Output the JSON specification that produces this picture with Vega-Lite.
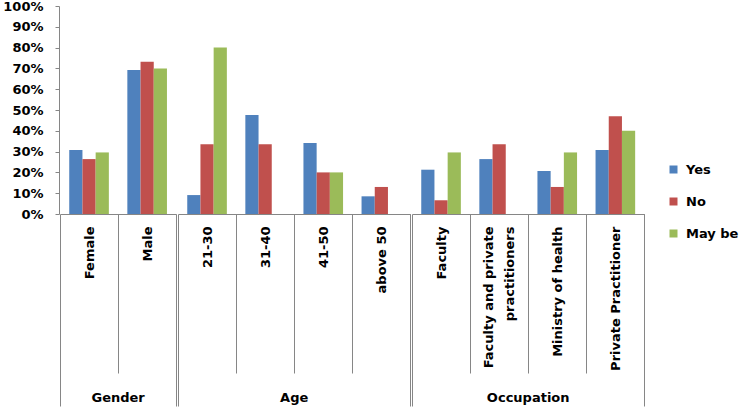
{
  "$schema": "https://vega.github.io/schema/vega-lite/v6.json",
  "padding": {"left": 2, "top": 0, "right": 0, "bottom": 0},
  "background": "white",
  "data": {"values": [
    {"group": "Gender", "category": "Female", "series": "Yes", "value": 0.308},
    {"group": "Gender", "category": "Female", "series": "No", "value": 0.264},
    {"group": "Gender", "category": "Female", "series": "May be", "value": 0.296},
    {"group": "Gender", "category": "Male", "series": "Yes", "value": 0.692},
    {"group": "Gender", "category": "Male", "series": "No", "value": 0.732},
    {"group": "Gender", "category": "Male", "series": "May be", "value": 0.70},
    {"group": "Age", "category": "21-30", "series": "Yes", "value": 0.091},
    {"group": "Age", "category": "21-30", "series": "No", "value": 0.335},
    {"group": "Age", "category": "21-30", "series": "May be", "value": 0.80},
    {"group": "Age", "category": "31-40", "series": "Yes", "value": 0.476},
    {"group": "Age", "category": "31-40", "series": "No", "value": 0.335},
    {"group": "Age", "category": "31-40", "series": "May be", "value": 0},
    {"group": "Age", "category": "41-50", "series": "Yes", "value": 0.341},
    {"group": "Age", "category": "41-50", "series": "No", "value": 0.20},
    {"group": "Age", "category": "41-50", "series": "May be", "value": 0.20},
    {"group": "Age", "category": "above 50", "series": "Yes", "value": 0.085},
    {"group": "Age", "category": "above 50", "series": "No", "value": 0.13},
    {"group": "Age", "category": "above 50", "series": "May be", "value": 0},
    {"group": "Occupation", "category": "Faculty", "series": "Yes", "value": 0.213},
    {"group": "Occupation", "category": "Faculty", "series": "No", "value": 0.066},
    {"group": "Occupation", "category": "Faculty", "series": "May be", "value": 0.296},
    {"group": "Occupation", "category": "Faculty and private practitioners", "series": "Yes", "value": 0.264},
    {"group": "Occupation", "category": "Faculty and private practitioners", "series": "No", "value": 0.335},
    {"group": "Occupation", "category": "Faculty and private practitioners", "series": "May be", "value": 0},
    {"group": "Occupation", "category": "Ministry of health", "series": "Yes", "value": 0.207},
    {"group": "Occupation", "category": "Ministry of health", "series": "No", "value": 0.13},
    {"group": "Occupation", "category": "Ministry of health", "series": "May be", "value": 0.296},
    {"group": "Occupation", "category": "Private Practitioner", "series": "Yes", "value": 0.308},
    {"group": "Occupation", "category": "Private Practitioner", "series": "No", "value": 0.47},
    {"group": "Occupation", "category": "Private Practitioner", "series": "May be", "value": 0.40}
  ]},
  "facet": {
    "column": {
      "field": "group",
      "type": "nominal",
      "sort": ["Gender", "Age", "Occupation"],
      "header": {
        "title": null,
        "labelOrient": "bottom",
        "labelFont": "DejaVu Sans",
        "labelFontSize": 13,
        "labelFontWeight": "bold",
        "labelColor": "#000000",
        "labelPadding": -15
      }
    }
  },
  "spacing": 0,
  "resolve": {"scale": {"x": "independent", "xOffset": "independent"}},
  "spec": {
    "width": {"step": 58.1, "for": "position"},
    "height": 208,
    "mark": {"type": "bar"},
    "encoding": {
      "x": {
        "field": "category",
        "type": "nominal",
        "sort": null,
        "scale": {"paddingInner": 0, "paddingOuter": 0},
        "axis": {
          "title": null,
          "labelAngle": -90,
          "labelFont": "DejaVu Sans",
          "labelFontSize": {"condition": {"test": "datum.index < 0", "value": 0}, "value": 13},
          "labelFontWeight": "bold",
          "labelColor": "#000000",
          "labelPadding": -180,
          "labelLimit": 200,
          "labelLineHeight": 21,
          "labelBaseline": {"condition": {"test": "datum.value == 'Faculty and private practitioners'", "value": "line-bottom"}, "value": "middle"},
          "labelExpr": "datum.index < 0 ? '' : datum.label == 'Faculty and private practitioners' ? ['Faculty and private', 'practitioners'] : datum.label",
          "tickBand": "extent",
          "ticks": true,
          "tickSize": 192,
          "tickColor": "#868686",
          "tickWidth": 1,
          "tickDash": {"condition": {"test": "datum.index >= 0 && datum.index < 1", "value": [159, 1000]}, "value": []},
          "domainColor": "#868686"
        }
      },
      "xOffset": {
        "field": "series",
        "type": "nominal",
        "sort": ["Yes", "No", "May be"],
        "scale": {"paddingInner": 0, "paddingOuter": 0.7}
      },
      "y": {
        "field": "value",
        "type": "quantitative",
        "scale": {"domain": [0, 1]},
        "axis": {
          "title": null,
          "values": [0, 0.1, 0.2, 0.3, 0.4, 0.5, 0.6, 0.7, 0.8, 0.9, 1],
          "format": ".0%",
          "grid": false,
          "labelFont": "DejaVu Sans",
          "labelFontSize": 13,
          "labelFontWeight": "bold",
          "labelColor": "#000000",
          "labelPadding": 12,
          "tickSize": 4,
          "tickColor": "#868686",
          "domainColor": "#868686"
        }
      },
      "color": {
        "field": "series",
        "type": "nominal",
        "sort": ["Yes", "No", "May be"],
        "scale": {"domain": ["Yes", "No", "May be"], "range": ["#4F81BD", "#C0504D", "#9BBB59"]},
        "legend": {
          "title": null,
          "orient": "none",
          "legendX": 607,
          "legendY": 157,
          "symbolType": "square",
          "symbolSize": 64,
          "symbolStrokeWidth": 0,
          "labelFont": "DejaVu Sans",
          "labelFontSize": 13,
          "labelFontWeight": "bold",
          "labelColor": "#000000",
          "rowPadding": 18,
          "labelOffset": 6
        }
      }
    }
  },
  "config": {"view": {"stroke": null}}
}
